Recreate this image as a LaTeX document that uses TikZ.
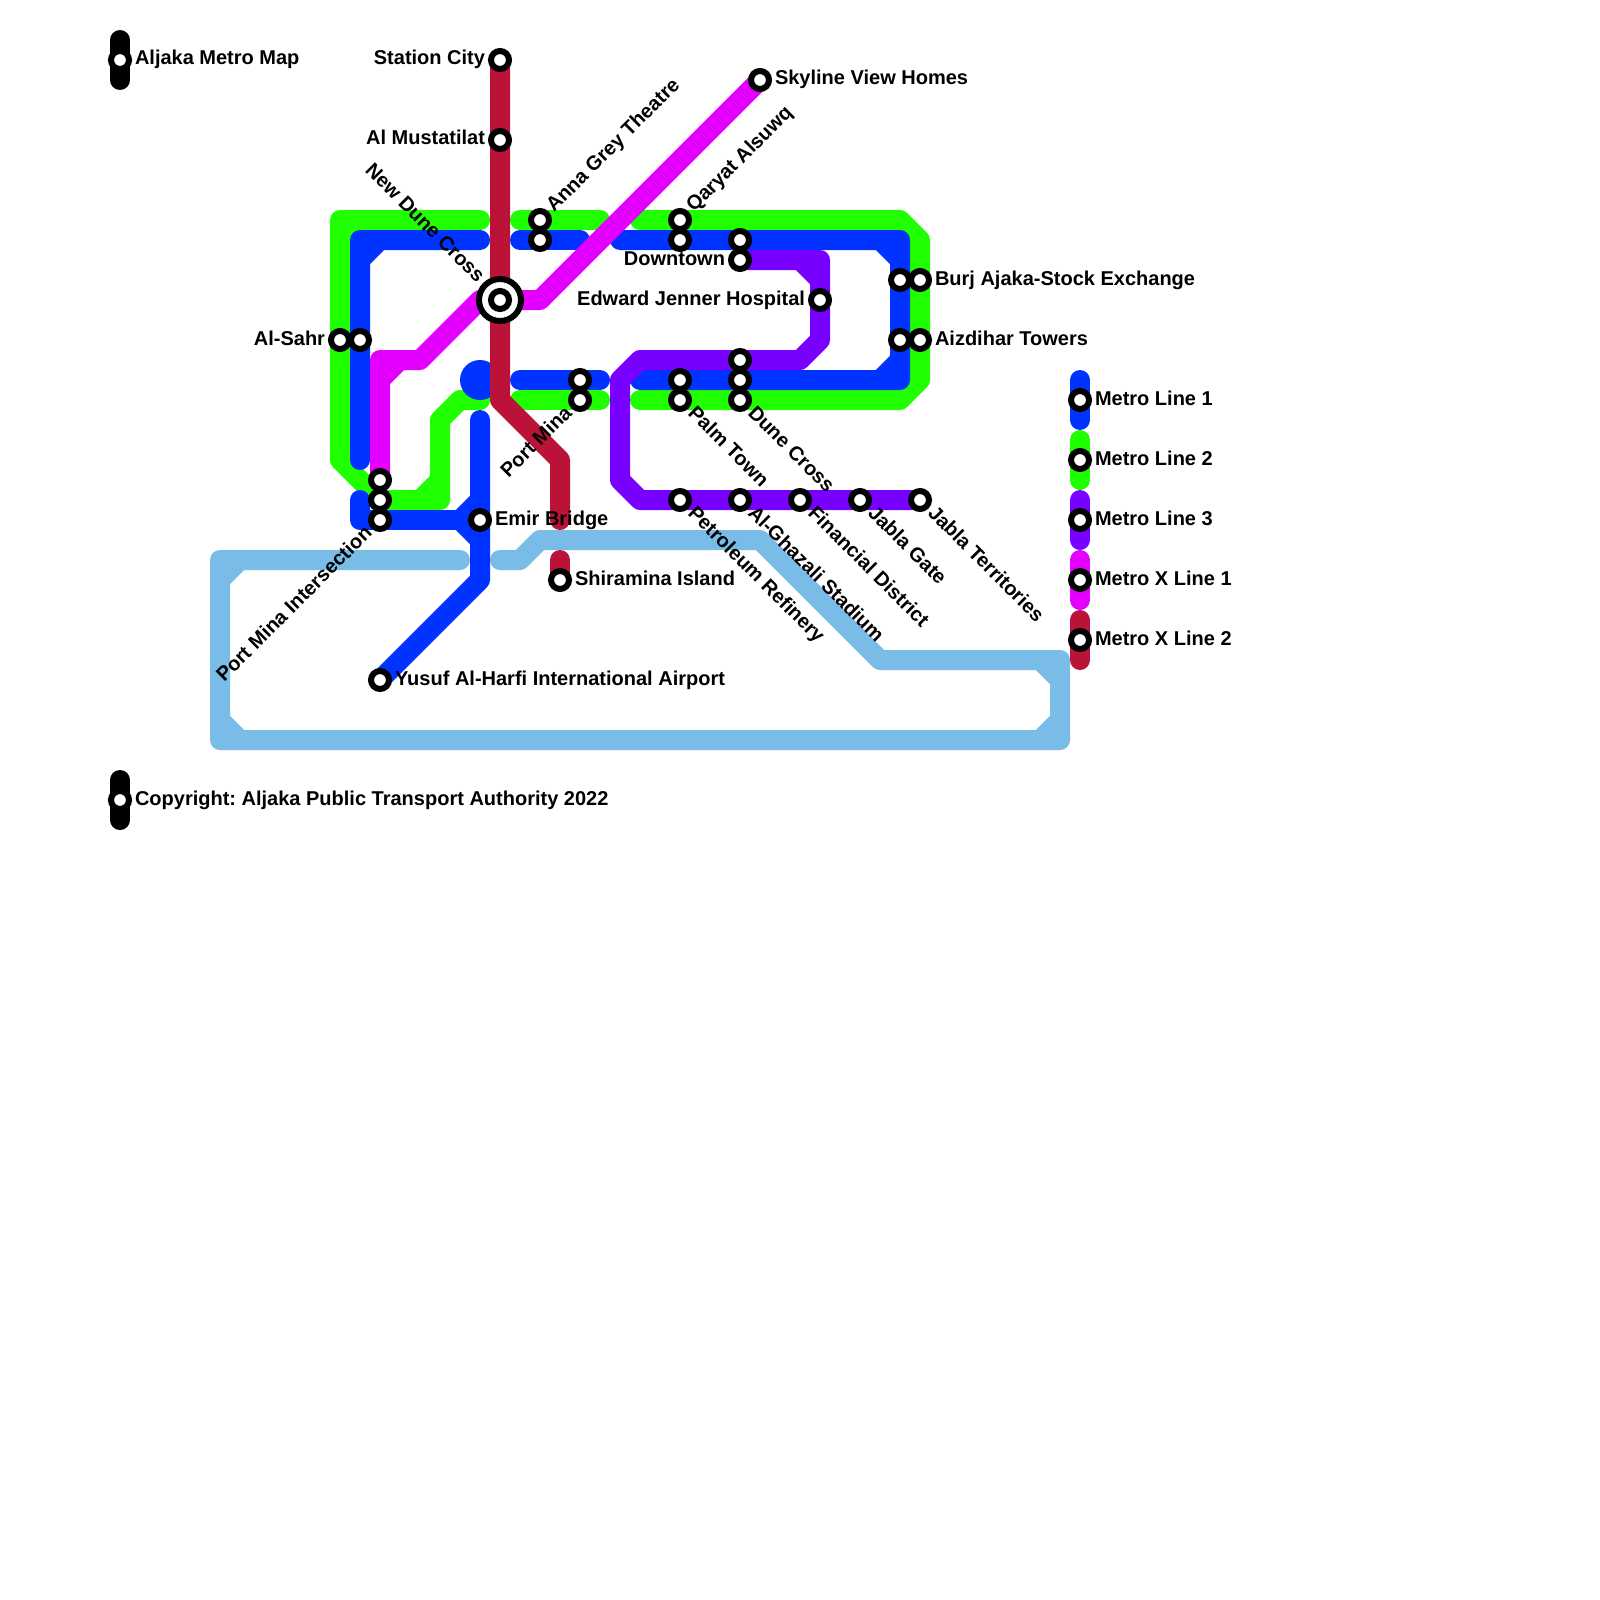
\documentclass[tikz,border=0pt]{standalone}
\usepackage{fontspec}
\setmainfont{Liberation Sans}
\usetikzlibrary{calc}
\definecolor{lineone}{HTML}{0033FF}
\definecolor{linetwo}{HTML}{1FFF00}
\definecolor{linethree}{HTML}{7700FF}
\definecolor{linexone}{HTML}{E400FF}
\definecolor{linextwo}{HTML}{BB1238}
\definecolor{linelight}{HTML}{7ABCE8}
\tikzset{
  route/.style={line width=20pt,line cap=round,line join=round,draw=#1},
  stn/.style={circle,draw=black,fill=white,line width=6pt,minimum size=18pt,inner sep=0pt,outer sep=0pt},
  lbl/.style={font=\bfseries\frenchspacing\fontsize{20pt}{22pt}\selectfont,text=black,inner sep=0pt,outer sep=0pt},
}
\newcommand{\rlab}[3]{\node[lbl,rotate=#2,anchor=base west] at ($(#1)+(#2:15pt)+(#2-90:5pt)$) {#3};}
\newcommand{\llab}[4][15pt]{\node[lbl,rotate=#3,anchor=base east] at ($(#2)+(#3+180:#1)+(#3-90:5pt)$) {#4};}
\begin{document}
\begin{tikzpicture}[x=1pt,y=-1pt]
\useasboundingbox (0,0) rectangle (1600,1600);
\fill[white] (0,0) rectangle (1600,1600);
% light blue
\draw[route=linelight] (460,560)--(220,560)--(220,740)--(1060,740)--(1060,660)--(880,660)--(760,540)--(540,540)--(520,560)--(500,560)
  (220,580)--(240,560) (220,720)--(240,740) (1040,740)--(1060,720) (1040,660)--(1060,680);
% green
\draw[route=linetwo] (480,220)--(340,220)--(340,460)--(380,500)--(440,500)--(440,420)--(460,400)--(480,400)
  (420,500)--(440,480) (340,240)--(360,220);
\draw[route=linetwo] (520,220)--(600,220);
\draw[route=linetwo] (520,400)--(600,400);
\draw[route=linetwo] (640,220)--(900,220)--(920,240)--(920,380)--(900,400)--(640,400);
% blue
\fill[lineone] (480,380) circle (20);
\draw[route=lineone] (360,460)--(360,240)--(480,240) (360,260)--(380,240);
\draw[route=lineone] (520,240)--(580,240);
\draw[route=lineone] (520,380)--(600,380);
\draw[route=lineone] (620,240)--(900,240)--(900,380)--(640,380) (880,240)--(900,260) (880,380)--(900,360);
\draw[route=lineone] (360,500)--(360,520)--(480,520);
\draw[route=lineone] (480,420)--(480,580)--(380,680) (480,500)--(460,520)--(480,540);
% purple
\draw[route=linethree] (740,260)--(820,260)--(820,340)--(800,360)--(640,360)--(620,380)--(620,480)--(640,500)--(920,500) (800,260)--(820,280);
% magenta
\draw[route=linexone] (380,480)--(380,360)--(420,360)--(480,300)--(540,300)--(760,80) (380,380)--(400,360);
% crimson
\draw[route=linextwo] (500,60)--(500,400)--(560,460)--(560,520);
\draw[route=linextwo] (560,560)--(560,580);
% legend
\draw[route=black] (120,40)--(120,80);
\draw[route=black] (120,780)--(120,820);
\draw[route=lineone] (1080,380)--(1080,420);
\draw[route=linetwo] (1080,440)--(1080,480);
\draw[route=linethree] (1080,500)--(1080,540);
\draw[route=linexone] (1080,560)--(1080,600);
\draw[route=linextwo] (1080,620)--(1080,660);
% stations
\foreach \n/\px/\py in {title/120/60,copy/120/800,city/500/60,must/500/140,annaa/540/220,annab/540/240,qara/680/220,qarb/680/240,
  dta/740/240,dtb/740/260,jenner/820/300,burja/900/280,burjb/920/280,aizda/900/340,aizdb/920/340,sahra/340/340,sahrb/360/340,
  pmia/380/480,pmib/380/500,pmic/380/520,emir/480/520,pma/580/380,pmb/580/400,palma/680/380,palmb/680/400,
  dunea/740/360,duneb/740/380,dunec/740/400,petro/680/500,ghaz/740/500,fin/800/500,jgate/860/500,jterr/920/500,
  shir/560/580,yusuf/380/680,sky/760/80,la/1080/400,lb/1080/460,lc/1080/520,ld/1080/580,le/1080/640}
  {\node[stn] (\n) at (\px,\py) {};}
\draw[black,line width=6pt,fill=white] (500,300) circle (21);
\node[stn] (ndc) at (500,300) {};
% labels
\rlab{title}{0}{Aljaka Metro Map}
\rlab{copy}{0}{Copyright: Aljaka Public Transport Authority 2022}
\llab{city}{0}{Station City}
\llab{must}{0}{Al Mustatilat}
\llab[28pt]{ndc}{-45}{New Dune Cross}
\rlab{annaa}{45}{Anna Grey Theatre}
\rlab{qara}{45}{Qaryat Alsuwq}
\rlab{sky}{0}{Skyline View Homes}
\llab{dtb}{0}{Downtown}
\llab{jenner}{0}{Edward Jenner Hospital}
\rlab{burjb}{0}{Burj Ajaka-Stock Exchange}
\rlab{aizdb}{0}{Aizdihar Towers}
\llab{sahra}{0}{Al-Sahr}
\llab{pmb}{45}{Port Mina}
\rlab{palmb}{-45}{Palm Town}
\rlab{dunec}{-45}{Dune Cross}
\rlab{emir}{0}{Emir Bridge}
\rlab{shir}{0}{Shiramina Island}
\rlab{petro}{-45}{Petroleum Refinery}
\rlab{ghaz}{-45}{Al-Ghazali Stadium}
\rlab{fin}{-45}{Financial District}
\rlab{jgate}{-45}{Jabla Gate}
\rlab{jterr}{-45}{Jabla Territories}
\llab{pmic}{45}{Port Mina Intersection}
\rlab{yusuf}{0}{Yusuf Al-Harfi International Airport}
\rlab{la}{0}{Metro Line 1}
\rlab{lb}{0}{Metro Line 2}
\rlab{lc}{0}{Metro Line 3}
\rlab{ld}{0}{Metro X Line 1}
\rlab{le}{0}{Metro X Line 2}
\end{tikzpicture}
\end{document}
